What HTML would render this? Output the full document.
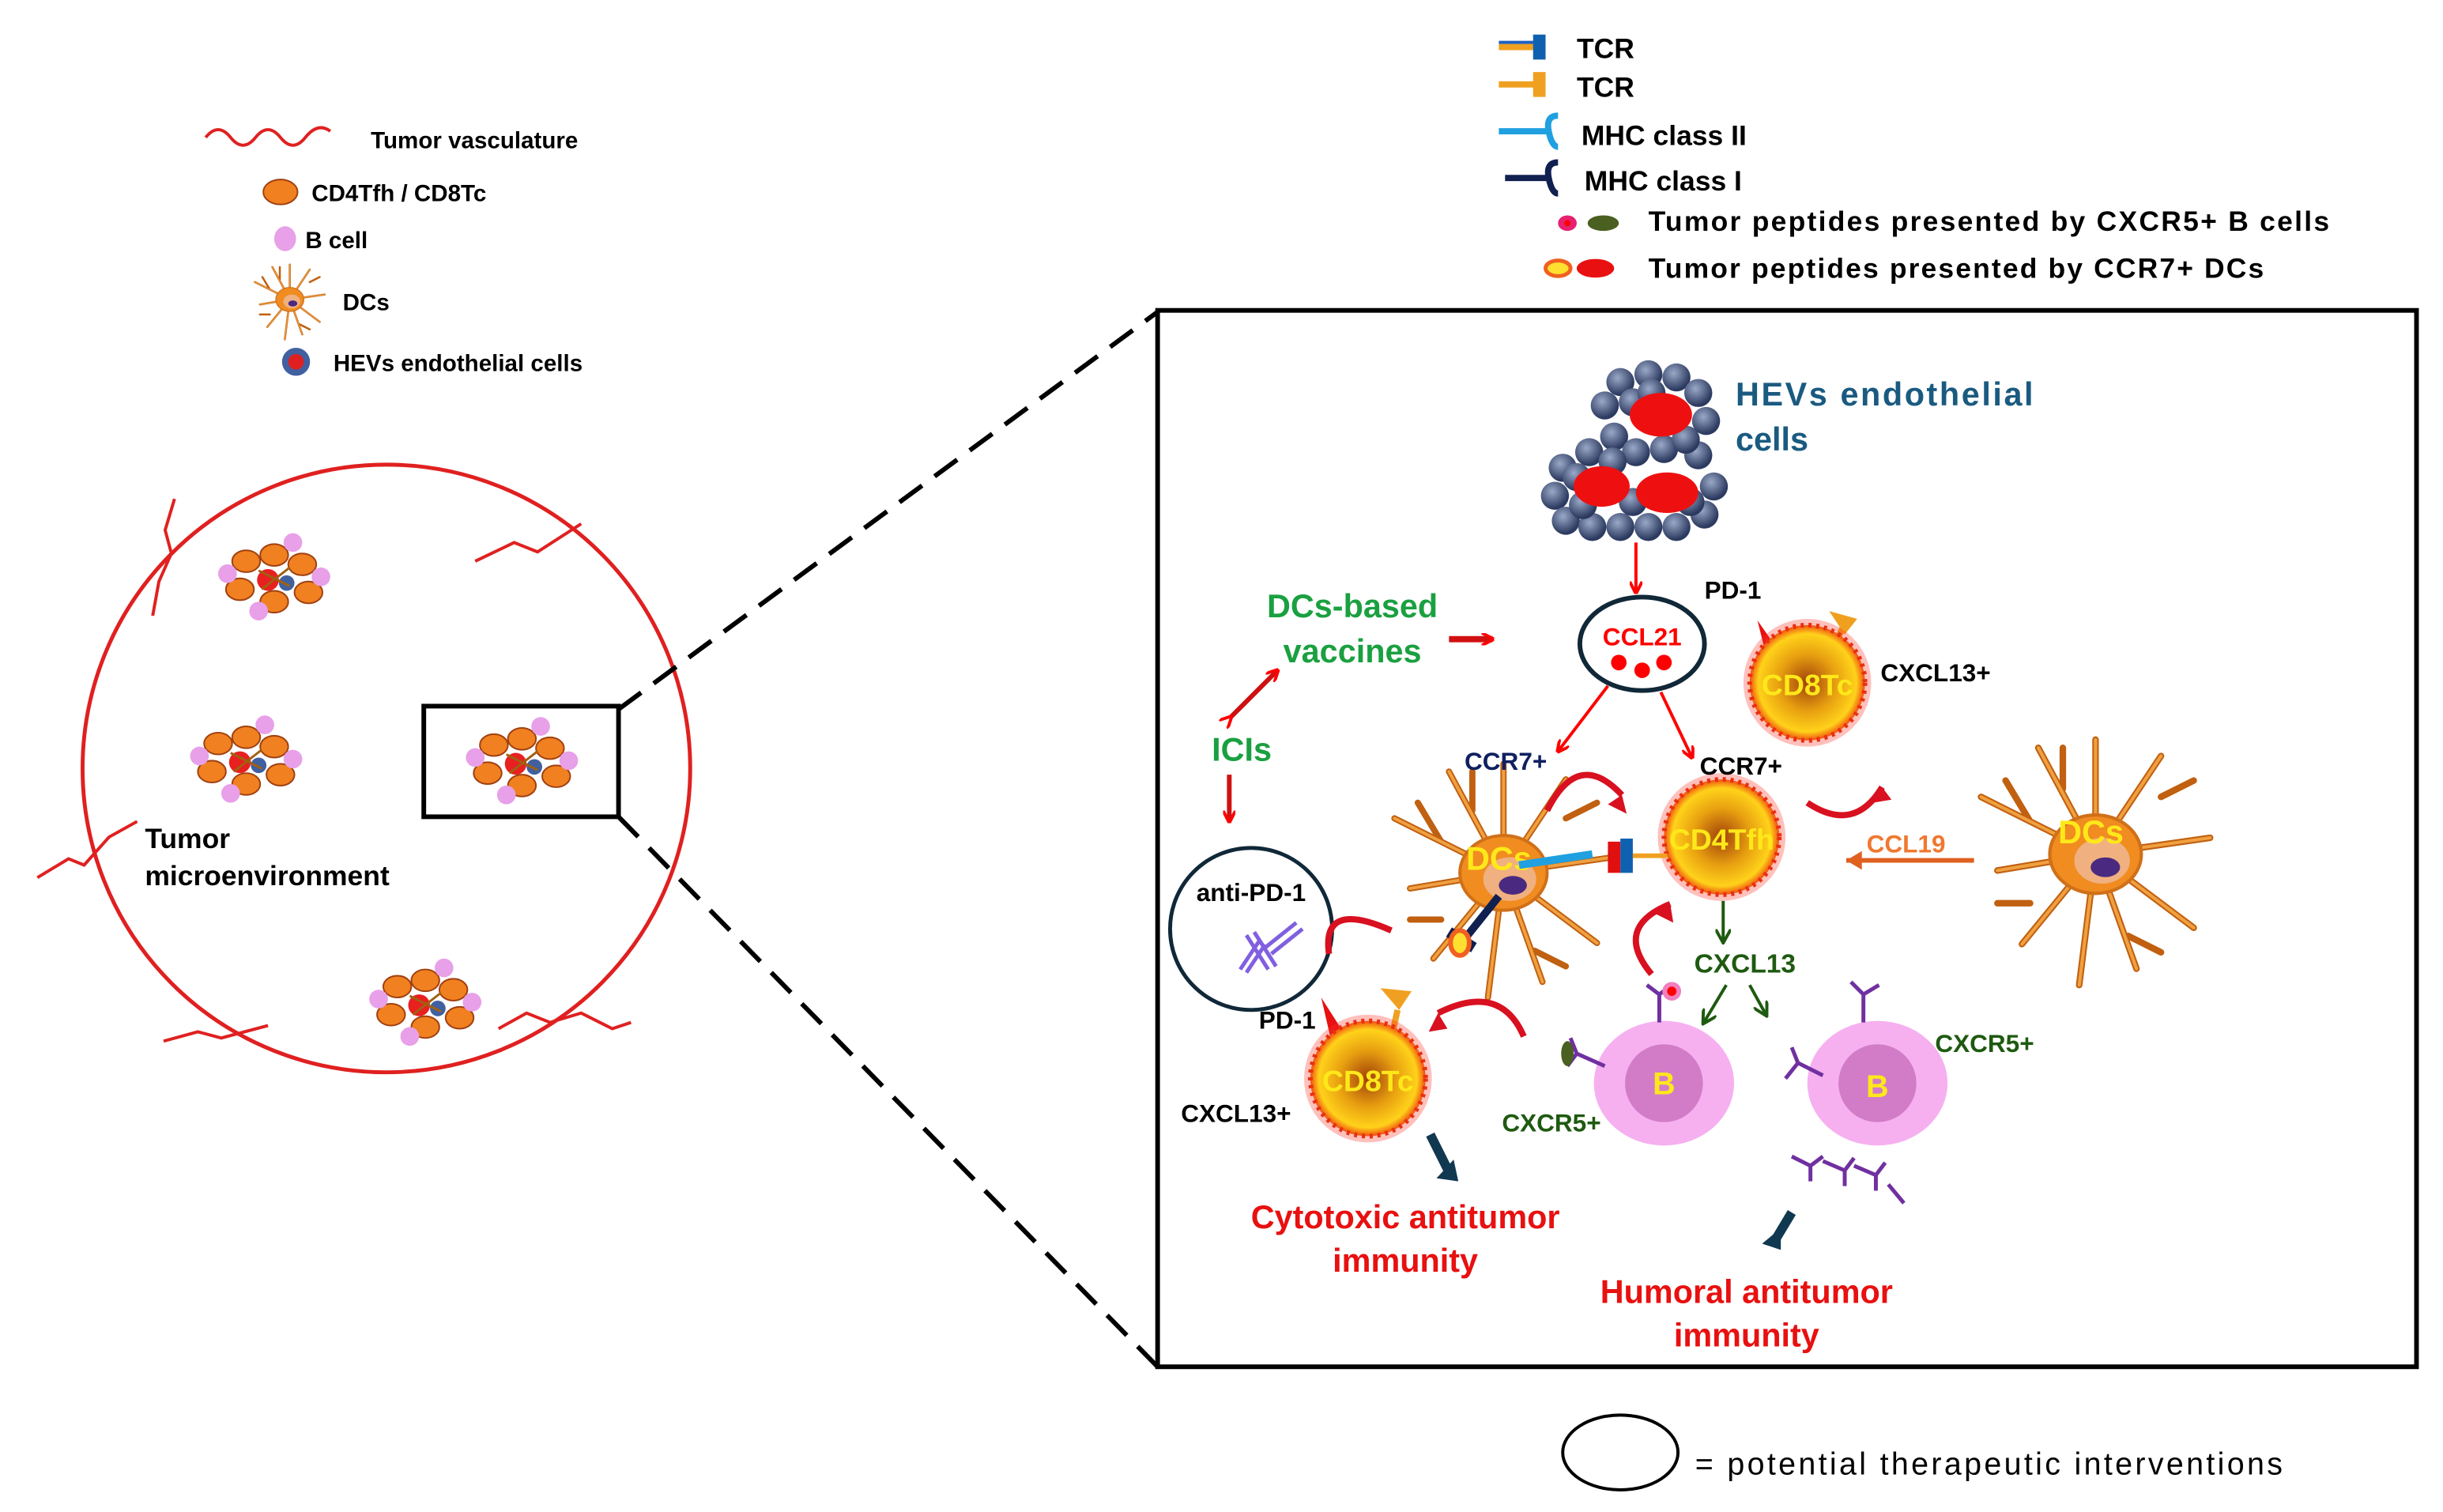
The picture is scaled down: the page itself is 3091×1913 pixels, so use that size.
<!DOCTYPE html>
<html><head><meta charset="utf-8"><style>
html,body{margin:0;padding:0;background:#fff;}
svg{display:block;font-family:"Liberation Sans",Arial,sans-serif;font-weight:bold;}
</style></head><body>
<svg width="3091" height="1913" viewBox="0 0 1568 970" xmlns="http://www.w3.org/2000/svg">
<defs>
<radialGradient id="tg" cx="50%" cy="50%" r="50%">
<stop offset="0" stop-color="#a0400a"/><stop offset="0.5" stop-color="#e8a010"/><stop offset="0.85" stop-color="#ffd21a"/><stop offset="1" stop-color="#f05010"/>
</radialGradient>
<radialGradient id="hb" cx="40%" cy="35%" r="60%"><stop offset="0" stop-color="#9aa8c8"/><stop offset="1" stop-color="#2c3a60"/></radialGradient>
<g id="tc">
<circle r="41" fill="#ff3020" opacity="0.3"/>
<circle r="37" fill="url(#tg)" stroke="#e83010" stroke-width="3" stroke-dasharray="2 3"/>
</g>
<g id="dc" stroke="#c06010" stroke-width="4" fill="none" stroke-linecap="round">
<path d="M0 0L-70-35M0 0L-60 10M0 0L-45 55M0 0L-10 80M0 0L25 70M0 0L60 45M0 0L70-10M0 0L40-60M0 0L0-70M0 0L-35-65M-40-20L-55-45M-40 30L-60 30M20 50L40 60M40-35L60-45M-20-40L-20-65"/>
<path d="M0 0L-70-35M0 0L-60 10M0 0L-45 55M0 0L-10 80M0 0L25 70M0 0L60 45M0 0L70-10M0 0L40-60M0 0L0-70M0 0L-35-65" stroke="#f0a040" stroke-width="2"/>
<ellipse rx="28" ry="24" fill="#f08c20" stroke="#d07018" stroke-width="2"/>
<ellipse cx="4" cy="4" rx="17" ry="14" fill="#f0b080" stroke="none"/>
<ellipse cx="6" cy="8" rx="9" ry="6" fill="#4a2a80" stroke="none"/>
</g>
<g id="bc">
<ellipse rx="45" ry="40" fill="#f6b0f0"/>
<circle r="25" fill="#d27cc8"/>
</g>
<g id="mini">
<ellipse cx="-18" cy="-10" rx="9" ry="7" fill="#f08020" stroke="#a04010"/>
<ellipse cx="0" cy="-14" rx="9" ry="7" fill="#f08020" stroke="#a04010"/>
<ellipse cx="18" cy="-8" rx="9" ry="7" fill="#f08020" stroke="#a04010"/>
<ellipse cx="-22" cy="8" rx="9" ry="7" fill="#f08020" stroke="#a04010"/>
<ellipse cx="22" cy="10" rx="9" ry="7" fill="#f08020" stroke="#a04010"/>
<ellipse cx="0" cy="16" rx="9" ry="7" fill="#f08020" stroke="#a04010"/>
<circle cx="-30" cy="-2" r="6" fill="#e8a0e8"/><circle cx="30" cy="0" r="6" fill="#e8a0e8"/>
<circle cx="-10" cy="22" r="6" fill="#e8a0e8"/><circle cx="12" cy="-22" r="6" fill="#e8a0e8"/>
<circle cx="-4" cy="2" r="7" fill="#e82020"/><circle cx="8" cy="4" r="5" fill="#4060a0"/>
<path d="M-10 -4L10 6M10-6L-8 8" stroke="#a06010" stroke-width="1.5"/>
</g>
<marker id="ar" markerWidth="8" markerHeight="8" refX="7" refY="4" orient="auto" markerUnits="userSpaceOnUse"><path d="M0 0L8 4L0 8" fill="none" stroke="red" stroke-width="2"/></marker>
<marker id="ag" markerWidth="10" markerHeight="10" refX="9" refY="5" orient="auto" markerUnits="userSpaceOnUse"><path d="M0 0L9 5L0 10" fill="none" stroke="#1e5a10" stroke-width="2"/></marker>
</defs>

<!-- left legend -->
<path d="M132 88q8-10 16 0t16 0t16 0t16 0t16-4" fill="none" stroke="#e02020" stroke-width="2"/>
<text x="238" y="95" font-size="15">Tumor vasculature</text>
<ellipse cx="180" cy="123" rx="11" ry="8" fill="#f08020" stroke="#a04010"/>
<text x="200" y="129" font-size="15">CD4Tfh / CD8Tc</text>
<ellipse cx="183" cy="153" rx="7" ry="8" fill="#e8a0e8"/>
<text x="196" y="159" font-size="15">B cell</text>
<g transform="translate(186,192) scale(0.32)"><use href="#dc"/></g>
<text x="220" y="199" font-size="15">DCs</text>
<circle cx="190" cy="232" r="9" fill="#4060a0"/><circle cx="190" cy="232" r="5" fill="#e02020"/>
<text x="214" y="238" font-size="15">HEVs endothelial cells</text>

<!-- tumor circle -->
<circle cx="248" cy="493" r="195" fill="none" stroke="#e02020" stroke-width="2.5"/>
<g fill="none" stroke="#e02020" stroke-width="2">
<path d="M112 320l-6 20 4 15-8 18 -4 22"/>
<path d="M305 360l25-12 15 6 28-18"/>
<path d="M24 563l20-12 10 4 16-18 18-10"/>
<path d="M105 668l22-6 15 4 30-8"/>
<path d="M320 660l18-10 15 6 20-6 20 10 12-4"/>
</g>
<use href="#mini" transform="translate(176,370)"/>
<use href="#mini" transform="translate(158,487)"/>
<use href="#mini" transform="translate(335,488)"/>
<use href="#mini" transform="translate(273,643)"/>
<text x="93" y="544" font-size="18">Tumor</text>
<text x="93" y="568" font-size="18">microenvironment</text>
<rect x="272" y="453" width="125" height="71" fill="none" stroke="#000" stroke-width="3"/>
<line x1="397" y1="455" x2="743" y2="200" stroke="#000" stroke-width="3" stroke-dasharray="18 10"/>
<line x1="397" y1="524" x2="743" y2="877" stroke="#000" stroke-width="3" stroke-dasharray="18 10"/>

<!-- top legend -->
<g stroke-width="4" fill="none">
<line x1="962" y1="30" x2="990" y2="30" stroke="#f0a020"/><line x1="962" y1="27" x2="990" y2="27" stroke="#2060c0" stroke-width="2"/>
<path d="M988 22v16" stroke="#1060b0" stroke-width="8"/>
<line x1="962" y1="54" x2="990" y2="54" stroke="#f0a020"/><path d="M988 46v16" stroke="#f0a020" stroke-width="8"/>
<line x1="962" y1="84" x2="995" y2="84" stroke="#20a0e0"/><path d="M1000 74q-8 0-6 10t6 10" stroke="#20a0e0"/>
<line x1="966" y1="114" x2="995" y2="114" stroke="#102050"/><path d="M1000 104q-8 0-6 10t6 10" stroke="#102050"/>
</g>
<text x="1012" y="37" font-size="18">TCR</text>
<text x="1012" y="62" font-size="18">TCR</text>
<text x="1015" y="93" font-size="18">MHC class II</text>
<text x="1017" y="122" font-size="18">MHC class I</text>
<ellipse cx="1006" cy="143" rx="6" ry="5" fill="#e82070"/><circle cx="1006" cy="143" r="2" fill="red"/>
<ellipse cx="1029" cy="143" rx="10" ry="5" fill="#4a6020"/>
<text x="1058" y="148" font-size="18" textLength="437">Tumor peptides presented by  CXCR5+ B cells</text>
<ellipse cx="1000" cy="172" rx="8" ry="5" fill="#ffe030" stroke="#f06020" stroke-width="2.5"/>
<ellipse cx="1024" cy="172" rx="12" ry="6" fill="#e81010"/>
<text x="1058" y="178" font-size="18" textLength="395">Tumor peptides presented by CCR7+ DCs</text>

<!-- big box -->
<rect x="743" y="199" width="808" height="678" fill="none" stroke="#000" stroke-width="3"/>

<!-- HEVs -->
<g fill="url(#hb)">
<circle cx="1040" cy="245" r="9"/><circle cx="1058" cy="240" r="9"/><circle cx="1076" cy="242" r="9"/><circle cx="1090" cy="252" r="9"/>
<circle cx="1030" cy="260" r="9"/><circle cx="1095" cy="270" r="9"/><circle cx="1036" cy="280" r="9"/><circle cx="1020" cy="290" r="9"/>
<circle cx="1003" cy="300" r="9"/><circle cx="998" cy="318" r="9"/><circle cx="1005" cy="334" r="9"/><circle cx="1022" cy="338" r="9"/>
<circle cx="1040" cy="338" r="9"/><circle cx="1058" cy="338" r="9"/><circle cx="1076" cy="338" r="9"/><circle cx="1094" cy="330" r="9"/>
<circle cx="1100" cy="312" r="9"/><circle cx="1090" cy="292" r="9"/><circle cx="1050" cy="290" r="9"/><circle cx="1048" cy="258" r="9"/>
<circle cx="1068" cy="288" r="9"/><circle cx="1082" cy="282" r="9"/><circle cx="1035" cy="296" r="9"/><circle cx="1012" cy="306" r="9"/>
<circle cx="1016" cy="324" r="9"/><circle cx="1048" cy="322" r="9"/><circle cx="1085" cy="322" r="9"/><circle cx="1060" cy="252" r="9"/>
</g>
<ellipse cx="1066" cy="266" rx="20" ry="14" fill="#ee1010"/>
<ellipse cx="1028" cy="312" rx="18" ry="13" fill="#ee1010"/>
<ellipse cx="1070" cy="316" rx="20" ry="13" fill="#ee1010"/>
<text x="1114" y="260" font-size="21" fill="#1a5a80" textLength="191">HEVs endothelial</text>
<text x="1114" y="289" font-size="21" fill="#1a5a80">cells</text>

<line x1="1050" y1="348" x2="1050" y2="380" stroke="red" stroke-width="2" marker-end="url(#ar)"/>
<ellipse cx="1054" cy="413" rx="40" ry="30" fill="#fff" stroke="#102838" stroke-width="3"/>
<text x="1054" y="414" font-size="16" fill="red" text-anchor="middle">CCL21</text>
<circle cx="1039" cy="425" r="5" fill="red"/><circle cx="1054" cy="430" r="5" fill="red"/><circle cx="1068" cy="425" r="5" fill="red"/>
<line x1="1032" y1="440" x2="1000" y2="482" stroke="red" stroke-width="2" marker-end="url(#ar)"/>
<line x1="1066" y1="444" x2="1086" y2="486" stroke="red" stroke-width="2" marker-end="url(#ar)"/>

<text x="868" y="396" font-size="21" fill="#1aa040" text-anchor="middle">DCs-based</text>
<text x="868" y="425" font-size="21" fill="#1aa040" text-anchor="middle">vaccines</text>
<path d="M930 410h28" stroke="#d01010" stroke-width="4" marker-end="url(#ar)"/>
<path d="M790 460l30-30" stroke="#d01010" stroke-width="3" marker-end="url(#ar)" marker-start="url(#ar)"/>
<text x="797" y="488" font-size="21" fill="#1aa040" text-anchor="middle">ICIs</text>
<path d="M789 497v30" stroke="#d01010" stroke-width="3" marker-end="url(#ar)"/>

<circle cx="803" cy="596" r="52" fill="#fff" stroke="#102838" stroke-width="2.5"/>
<text x="803" y="578" font-size="16" text-anchor="middle">anti-PD-1</text>
<g stroke="#8060e0" stroke-width="2.5" fill="none"><path d="M800 600l14 22M805 598l14 22M812 608l20-16M816 612l20-16M812 606l-12 18M808 604l-12 18"/></g>

<!-- cells -->
<use href="#dc" transform="translate(965,560)"/>
<use href="#dc" transform="translate(1345,548) scale(1.05)"/>
<text x="962" y="558" font-size="21" fill="#ffe81a" text-anchor="middle">DCs</text>
<text x="1342" y="541" font-size="21" fill="#ffe81a" text-anchor="middle">DCs</text>

<!-- PD-1 top -->
<path d="M1128 398l14 20-8 4z" fill="#e81010"/>
<path d="M1175 420l8-18" stroke="#f0a020" stroke-width="4"/><path d="M1174 392l18 5-8 10z" fill="#f0a020"/>
<use href="#tc" transform="translate(1160,438)"/>
<text x="1160" y="446" font-size="19" fill="#ffe81a" text-anchor="middle">CD8Tc</text>
<text x="1094" y="384" font-size="16">PD-1</text>
<text x="1207" y="437" font-size="16">CXCL13+</text>

<use href="#tc" transform="translate(1105,537)"/>
<text x="1105" y="545" font-size="19" fill="#ffe81a" text-anchor="middle">CD4Tfh</text>
<text x="940" y="494" font-size="16" fill="#102060">CCR7+</text>
<text x="1091" y="497" font-size="16">CCR7+</text>

<!-- TCR-MHC -->
<line x1="975" y1="555" x2="1022" y2="548" stroke="#20a0e0" stroke-width="5"/>
<path d="M1036 540v20" stroke="#e01010" stroke-width="8"/>
<path d="M1044 538v22" stroke="#1060b0" stroke-width="8"/>
<line x1="1048" y1="549" x2="1070" y2="549" stroke="#f0a020" stroke-width="3"/>
<line x1="962" y1="575" x2="942" y2="600" stroke="#102050" stroke-width="5"/>
<path d="M930 598l16 10" stroke="#102050" stroke-width="7"/>
<ellipse cx="937" cy="605" rx="6" ry="8" fill="#ffe030" stroke="#f06020" stroke-width="3"/>

<!-- curved red arrows -->
<g fill="none" stroke="#d81020" stroke-width="4">
<path d="M993 520q20-40 48-10"/><path d="M1160 515q30 20 48-10"/><path d="M1060 625q-25-30 12-45"/>
<path d="M853 612q-5-35 40-15"/><path d="M978 665q-15-35-55-15"/>
</g>
<path d="M1041 510l3 12-12-6z" fill="#d81020"/><path d="M1208 505l6 8-12 2z" fill="#d81020"/>
<path d="M1072 580l2 12-12-6z" fill="#d81020"/><path d="M923 650l6 10-12 2z" fill="#d81020"/>

<!-- CCL19 -->
<path d="M1267 552h-82" stroke="#e06020" stroke-width="3"/>
<path d="M1185 552l10-6v12z" fill="#e06020"/>
<text x="1198" y="547" font-size="16" fill="#f07830">CCL19</text>

<!-- CD8 bottom -->
<path d="M848 640l14 22-8 4z" fill="#e81010"/>
<path d="M893 666l4-18" stroke="#f0a020" stroke-width="4"/><path d="M886 634l20 2-8 12z" fill="#f0a020"/>
<use href="#tc" transform="translate(878,692)"/>
<text x="878" y="700" font-size="19" fill="#ffe81a" text-anchor="middle">CD8Tc</text>
<text x="808" y="660" font-size="16">PD-1</text>
<text x="758" y="720" font-size="16">CXCL13+</text>
<path d="M918 728l12 24" stroke="#103850" stroke-width="6"/><path d="M922 756l14 2-3-14z" fill="#103850"/>
<text x="902" y="788" font-size="21" fill="#e81010" text-anchor="middle">Cytotoxic antitumor</text>
<text x="902" y="816" font-size="21" fill="#e81010" text-anchor="middle">immunity</text>

<!-- CXCL13 -->
<line x1="1106" y1="578" x2="1106" y2="605" stroke="#1e5a10" stroke-width="2" marker-end="url(#ag)"/>
<text x="1120" y="624" font-size="17" fill="#1e5a10" text-anchor="middle">CXCL13</text>
<line x1="1108" y1="632" x2="1093" y2="657" stroke="#1e5a10" stroke-width="2" marker-end="url(#ag)"/>
<line x1="1123" y1="632" x2="1134" y2="652" stroke="#1e5a10" stroke-width="2" marker-end="url(#ag)"/>

<!-- B cells -->
<use href="#bc" transform="translate(1068,695)"/>
<use href="#bc" transform="translate(1205,695)"/>
<text x="1068" y="702" font-size="20" fill="#ffe81a" text-anchor="middle">B</text>
<text x="1205" y="704" font-size="20" fill="#ffe81a" text-anchor="middle">B</text>
<g stroke="#7030a0" stroke-width="2.5" fill="none">
<path d="M1065 656v-18l-8-6M1065 638l8-6"/>
<path d="M1030 684l-18-8l-4-10M1012 676l-6 8"/>
<path d="M1196 656v-18l-8-8M1196 638l10-6"/>
<path d="M1170 690l-16-8l-8 10M1154 682l-4-10"/>
<path d="M1150 742l12 6 8-6M1162 748v10M1170 745l14 6 6-8M1184 751v10M1190 748l14 6 6-8M1204 754v10M1212 760l10 12"/>
</g>
<circle cx="1073" cy="636" r="6" fill="#f080c0"/><circle cx="1073" cy="636" r="3" fill="red"/>
<ellipse cx="1006" cy="676" rx="4" ry="8" fill="#4a6020"/>
<text x="964" y="726" font-size="16" fill="#1e5a10">CXCR5+</text>
<text x="1242" y="675" font-size="16" fill="#1e5a10">CXCR5+</text>
<path d="M1150 778l-12 20" stroke="#103850" stroke-width="6"/><path d="M1131 798l12 4 0-14z" fill="#103850"/>
<text x="1121" y="836" font-size="21" fill="#e81010" text-anchor="middle">Humoral antitumor</text>
<text x="1121" y="864" font-size="21" fill="#e81010" text-anchor="middle">immunity</text>

<!-- bottom legend -->
<ellipse cx="1040" cy="932" rx="37" ry="24" fill="none" stroke="#000" stroke-width="2"/>
<text x="1088" y="946" font-size="20" font-weight="normal" textLength="377">= potential therapeutic interventions</text>
</svg>
</body></html>
